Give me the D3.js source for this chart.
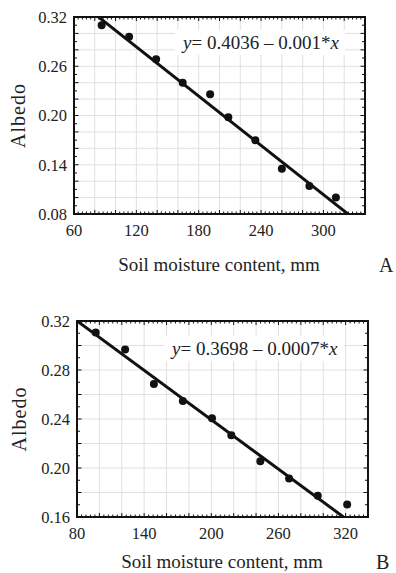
<!DOCTYPE html>
<html>
<head>
<meta charset="utf-8">
<title>Albedo vs soil moisture</title>
<script src="https://d3js.org/d3.v7.min.js"></script>
<style>
  body { margin: 0; background: #fff; }
  svg text { font-family: "Liberation Serif", "Times New Roman", serif; fill: #222; }
</style>
</head>
<body>
<script>
// panel A
var moistA = [86.6, 113, 139, 164.6, 191, 208.5, 234.5, 260, 286.5, 312];
var albedoA = [0.310, 0.296, 0.2685, 0.240, 0.2258, 0.1978, 0.170, 0.135, 0.114, 0.100];
var fitA = [0.4036, -0.001];          // intercept, slope
var xTicksA = [60, 120, 180, 240, 300];
var yTicksA = [0.08, 0.14, 0.20, 0.26, 0.32];
var xDomainA = [60, 340], yDomainA = [0.08, 0.32];

// panel B
var moistB = [96.7, 123, 148.7, 174.6, 200.6, 217.9, 243.8, 269.5, 295.1, 321.4];
var albedoB = [0.3106, 0.2967, 0.2685, 0.2547, 0.2406, 0.2267, 0.2056, 0.1914, 0.1774, 0.1703];
var fitB = [0.3738, -0.000672];
var xTicksB = [80, 140, 200, 260, 320];
var yTicksB = [0.16, 0.20, 0.24, 0.28, 0.32];
var xDomainB = [80, 340], yDomainB = [0.16, 0.32];

var svg = d3.select("body").append("svg")
    .attr("width", 396)
    .attr("height", 573);

function panel(o) {
    var x = d3.scaleLinear().domain(o.xDomain).range([o.left, o.right]);
    var y = d3.scaleLinear().domain(o.yDomain).range([o.bottom, o.top]);
    var w = o.right - o.left, h = o.bottom - o.top;
    var g = svg.append("g");

    var clipId = "clip" + o.name;
    svg.append("clipPath").attr("id", clipId)
        .append("rect").attr("x", o.left).attr("y", o.top).attr("width", w).attr("height", h);

    // grid
    var xGrid = d3.range(o.xDomain[0], o.xDomain[1] + 0.001, 20);
    var yGrid = d3.range(0, Math.round((o.yDomain[1] - o.yDomain[0]) / 0.02) + 1)
        .map(function(i) { return o.yDomain[0] + i * 0.02; });
    g.selectAll(".gx").data(xGrid).enter().append("line")
        .attr("x1", function(d) { return x(d); }).attr("x2", function(d) { return x(d); })
        .attr("y1", o.top).attr("y2", o.bottom)
        .attr("stroke", "#e0e0e0").attr("stroke-width", 1);
    g.selectAll(".gy").data(yGrid).enter().append("line")
        .attr("y1", function(d) { return y(d); }).attr("y2", function(d) { return y(d); })
        .attr("x1", o.left).attr("x2", o.right)
        .attr("stroke", "#e0e0e0").attr("stroke-width", 1);

    // equation box and text
    var eq = g.append("text")
        .attr("x", o.eqX).attr("y", o.eqY)
        .style("font-size", "19px");
    eq.append("tspan").style("font-style", "italic").text("y");
    eq.append("tspan").text("= " + o.eqA + " \u2013 " + o.eqB + "*");
    eq.append("tspan").style("font-style", "italic").text("x");
    var bb = eq.node().getBBox();
    g.insert("rect", "text")
        .attr("x", bb.x - 6).attr("y", bb.y - 2)
        .attr("width", bb.width + 12).attr("height", bb.height + 4)
        .attr("fill", "#fff");

    // minor ticks
    var xMinor = d3.range(o.xDomain[0], o.xDomain[1] + 0.001, 4);
    var yMinor = d3.range(0, Math.round((o.yDomain[1] - o.yDomain[0]) / 0.01) + 1)
        .map(function(i) { return o.yDomain[0] + i * 0.01; });
    var tk = g.append("g").attr("stroke", "#111").attr("stroke-width", 1);
    [o.top, o.bottom].forEach(function(yy, k) {
        var dir = k === 0 ? 1 : -1;
        tk.selectAll(null).data(xMinor).enter().append("line")
            .attr("x1", function(d) { return x(d); }).attr("x2", function(d) { return x(d); })
            .attr("y1", yy).attr("y2", function(d) {
                var major = Math.abs((d - o.xDomain[0]) % 20) < 0.01;
                return yy + dir * (major ? 4 : 2.5);
            });
    });
    [o.left, o.right].forEach(function(xx, k) {
        var dir = k === 0 ? 1 : -1;
        tk.selectAll(null).data(yMinor).enter().append("line")
            .attr("y1", function(d) { return y(d); }).attr("y2", function(d) { return y(d); })
            .attr("x1", xx).attr("x2", function(d, i) {
                return xx + dir * (i % 2 === 0 ? 4.5 : 3);
            });
    });

    // fit line
    g.append("line")
        .attr("clip-path", "url(#" + clipId + ")")
        .attr("x1", x(o.xDomain[0])).attr("y1", y(o.fit[0] + o.fit[1] * o.xDomain[0]))
        .attr("x2", x(o.xDomain[1])).attr("y2", y(o.fit[0] + o.fit[1] * o.xDomain[1]))
        .attr("stroke", "#111").attr("stroke-width", 3);

    // points
    g.selectAll(".pt").data(o.xs).enter().append("circle")
        .attr("cx", function(d) { return x(d); })
        .attr("cy", function(d, i) { return y(o.ys[i]); })
        .attr("r", 4)
        .attr("fill", "#111");

    // frame
    g.append("rect")
        .attr("x", o.left).attr("y", o.top).attr("width", w).attr("height", h)
        .attr("fill", "none").attr("stroke", "#111").attr("stroke-width", 2);

    // tick labels
    g.selectAll(".xl").data(o.xTicks).enter().append("text")
        .attr("x", function(d) { return x(d); })
        .attr("y", o.bottom + 22)
        .attr("text-anchor", "middle")
        .style("font-size", "16.5px")
        .text(function(d) { return d; });
    g.selectAll(".yl").data(o.yTicks).enter().append("text")
        .attr("x", o.left - 7)
        .attr("y", function(d) { return y(d); })
        .attr("dy", "0.35em")
        .attr("text-anchor", "end")
        .style("font-size", "16.5px")
        .text(function(d) { return d3.format(".2f")(d); });

    // titles
    g.append("text")
        .attr("x", o.xTitleX).attr("y", o.xTitleY)
        .attr("text-anchor", "middle")
        .style("font-size", "19px")
        .text("Soil moisture content, mm");
    g.append("text")
        .attr("transform", "translate(" + o.yTitleX + "," + ((o.top + o.bottom) / 2) + ") rotate(-90)")
        .attr("text-anchor", "middle")
        .style("font-size", "20px")
        .style("letter-spacing", "1px")
        .text("Albedo");
    g.append("text")
        .attr("x", o.letterX).attr("y", o.xTitleY + 1)
        .style("font-size", "20px")
        .text(o.name);
}

panel({
    name: "A", left: 74, right: 365, top: 17, bottom: 214,
    xDomain: xDomainA, yDomain: yDomainA, xTicks: xTicksA, yTicks: yTicksA,
    xs: moistA, ys: albedoA, fit: fitA, eqX: 183, eqY: 49,
    eqA: "0.4036", eqB: "0.001",
    xTitleX: 219, xTitleY: 271, yTitleX: 25, letterX: 379
});
panel({
    name: "B", left: 77, right: 368, top: 321, bottom: 517,
    xDomain: xDomainB, yDomain: yDomainB, xTicks: xTicksB, yTicks: yTicksB,
    xs: moistB, ys: albedoB, fit: fitB, eqX: 172, eqY: 355,
    eqA: "0.3698", eqB: "0.0007",
    xTitleX: 222, xTitleY: 568, yTitleX: 26, letterX: 376
});
</script>
</body>
</html>
